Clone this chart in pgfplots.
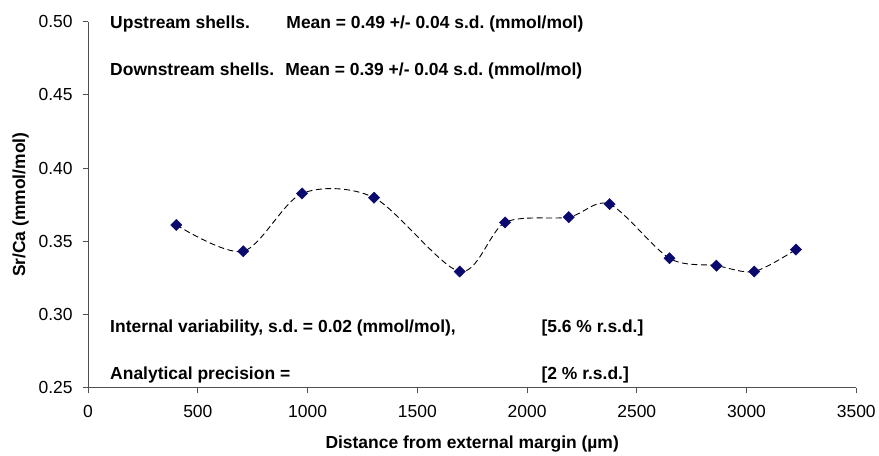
\documentclass[border=0pt]{standalone}
\usepackage{pgfplots}
\pgfplotsset{compat=1.18}
\usepackage{fontspec}
\setmainfont{Liberation Sans}
\frenchspacing
\definecolor{navy}{RGB}{10,10,110}
\definecolor{axgray}{RGB}{80,80,80}
\begin{document}
\begin{tikzpicture}[x=1bp,y=1bp]
\begin{axis}[
  at={(0,0)}, anchor=south west,
  scale only axis, width=770bp, height=367bp,
  xmin=0, xmax=3500, ymin=0.25, ymax=0.50,
  axis x line*=bottom, axis y line*=left,
  axis line style={-, axgray, line width=0.8bp},
  xtick={0,500,1000,1500,2000,2500,3000,3500},
  ytick={0.25,0.30,0.35,0.40,0.45,0.50},
  tick align=outside, major tick length=5bp,
  tick style={axgray, line width=0.8bp},
  /pgf/number format/assume math mode=true,
  tick label style={font=\fontsize{17.5bp}{20bp}\selectfont},
  x tick label style={/pgf/number format/1000 sep={}, yshift=-9bp},
  y tick label style={xshift=-7bp, /pgf/number format/fixed, /pgf/number format/fixed zerofill, /pgf/number format/precision=2},
  xlabel={Distance from external margin (µm)},
  ylabel={Sr/Ca (mmol/mol)},
  every axis x label/.style={at={(axis description cs:0.5,-0.153)}, anchor=center, font=\fontsize{17.5bp}{20bp}\selectfont\bfseries},
  every axis y label/.style={at={(axis description cs:-0.088,0.5)}, rotate=90, anchor=center, font=\fontsize{17.5bp}{20bp}\selectfont\bfseries},
  clip=false,
]
\addplot[black, smooth, line width=0.9bp, dash pattern=on 6bp off 3.5bp] table {
x y
402 0.3612
707 0.3432
975 0.3827
1303 0.3798
1693 0.3294
1900 0.3629
2190 0.3665
2376 0.3754
2649 0.3384
2863 0.3334
3035 0.3294
3225 0.3444
};
\addplot[only marks, mark=square*, mark size=4bp, mark options={rotate=45, fill=navy, draw=navy}] table {
x y
402 0.3612
707 0.3432
975 0.3827
1303 0.3798
1693 0.3294
1900 0.3629
2190 0.3665
2376 0.3754
2649 0.3384
2863 0.3334
3035 0.3294
3225 0.3444
};
\begin{scope}[every node/.style={font=\fontsize{17.5bp}{20bp}\selectfont\bfseries, inner sep=0pt}]
\node[anchor=base west] at (axis cs:100,0.4955) {Upstream shells.};
\node[anchor=base west] at (axis cs:903,0.4955) {Mean = 0.49 +/- 0.04 s.d. (mmol/mol)};
\node[anchor=base west] at (axis cs:100,0.463) {Downstream shells.};
\node[anchor=base west] at (axis cs:898,0.463) {Mean = 0.39 +/- 0.04 s.d. (mmol/mol)};
\node[anchor=base west] at (axis cs:100,0.2879) {Internal variability, s.d. = 0.02 (mmol/mol),};
\node[anchor=base west] at (axis cs:2065,0.2879) {[5.6 \% r.s.d.]};
\node[anchor=base west] at (axis cs:100,0.2554) {Analytical precision =};
\node[anchor=base west] at (axis cs:2065,0.2554) {[2 \% r.s.d.]};
\end{scope}
\end{axis}
\path[use as bounding box] (-88.3bp,-65bp) rectangle (790.7bp,388.7bp);
\end{tikzpicture}
\end{document}
